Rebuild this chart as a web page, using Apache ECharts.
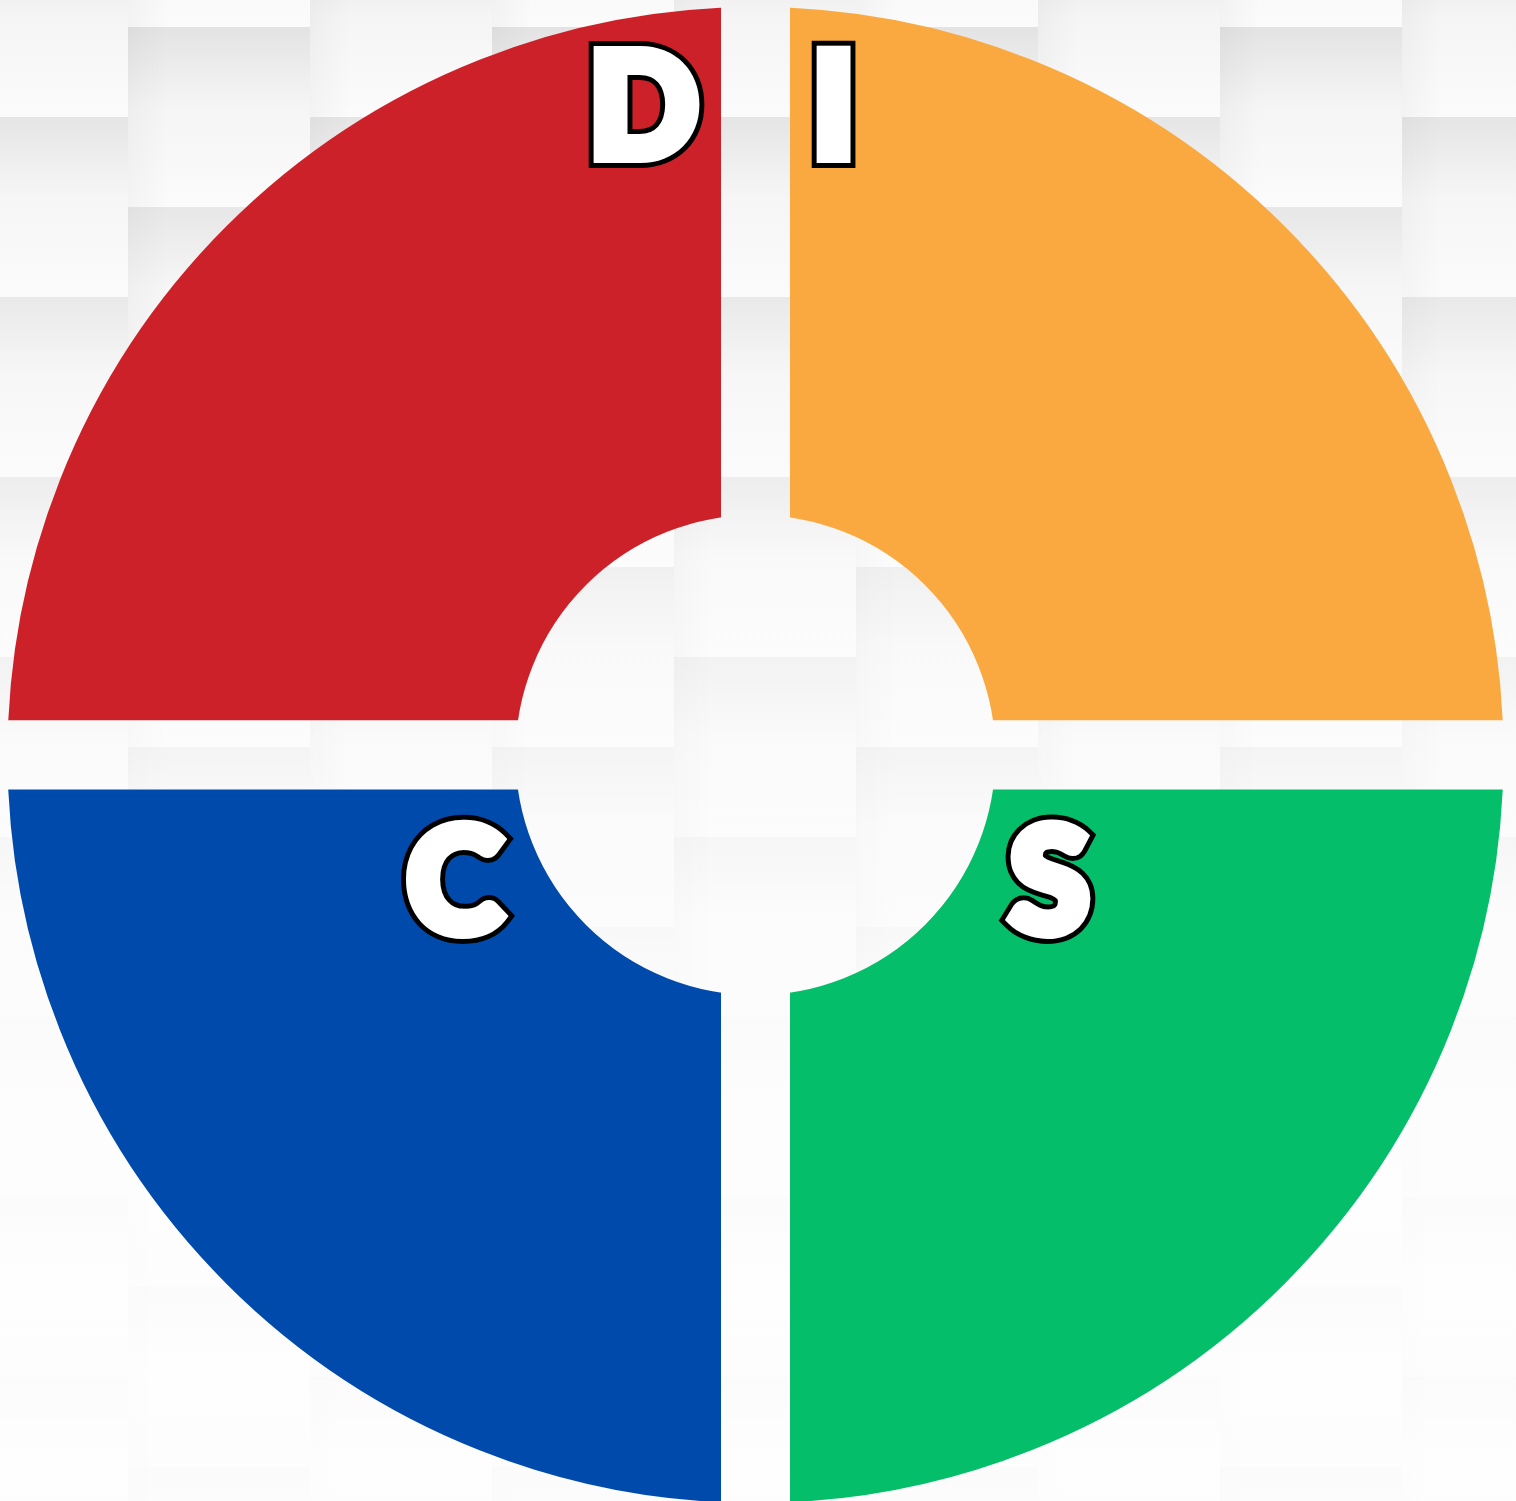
<!DOCTYPE html>
<html>
<head>
<meta charset="utf-8">
<script src="https://cdn.jsdelivr.net/npm/echarts@6/dist/echarts.min.js"></script>
<style>
  html, body { margin: 0; padding: 0; background: #f7f7f7; }
  #chart { width: 1516px; height: 1501px; }
</style>
</head>
<body>
<div id="chart"></div>
<script>
// ---- data ----
const categories = ['D', 'I', 'S', 'C'];
const values = [25, 25, 25, 25];
const colors = ['#cc2129', '#f9a93f', '#05be69', '#004aac'];

// ---- background tile texture (decorative) ----
const W = 1516, H = 1501;
function makeBackground(w, h) {
  const c = document.createElement('canvas');
  c.width = w; c.height = h;
  const g = c.getContext('2d');
  g.fillStyle = '#fbfbfb';
  g.fillRect(0, 0, w, h);
  const TW = 182, TH = 180;
  for (let k = -1; 128 + TW * k < w; k++) {
    const x = 128 + TW * k;
    const off = (Math.abs(k) % 2 === 0) ? 27 : 117;
    for (let y = off - TH; y < h; y += TH) {
      const s = Math.max(0.15, Math.min(1, 1.1 - (y + TH / 2) / 1200));
      const top = Math.round(255 - 28 * s);
      const mid = Math.round(255 - 10 * s);
      const bot = Math.round(253 - 2 * s);
      const grad = g.createLinearGradient(0, y, 0, y + TH);
      grad.addColorStop(0, `rgb(${top},${top},${top})`);
      grad.addColorStop(0.45, `rgb(${mid},${mid},${mid})`);
      grad.addColorStop(1, `rgb(${bot},${bot},${bot})`);
      g.fillStyle = grad;
      g.fillRect(x, y, TW, TH);
      const sg = g.createLinearGradient(x, 0, x + 40, 0);
      sg.addColorStop(0, `rgba(0,0,0,${0.03 * s})`);
      sg.addColorStop(1, 'rgba(0,0,0,0)');
      g.fillStyle = sg;
      g.fillRect(x, y, 40, TH);
    }
  }
  return c;
}
const bg = makeBackground(W, H);
document.getElementById('chart').style.background = 'url(' + bg.toDataURL() + ') no-repeat 0 0';

// ---- geometry ----
const CX = 755.5, CY = 755;
const R_OUT = 748, R_IN = 240, GAP = 69;
const HALF = GAP / 2;

// label anchor offsets from the ring centre
const labelOffsets = {
  D: [-112, -644],
  I: [78, -644],
  S: [294, 131],
  C: [-301, 131]
};
const FONT = '900 144px Lato';
const BOLD = 6, OUTLINE = 5;

function letterLayers(name) {
  const o = labelOffsets[name];
  const base = {
    text: name, x: CX + o[0], y: CY + o[1],
    font: FONT, align: 'center', verticalAlign: 'middle',
    lineJoin: 'round', lineCap: 'round'
  };
  return [
    { type: 'text', z: 10, silent: true,
      style: Object.assign({}, base, { fill: '#000', stroke: '#000', lineWidth: 2 * (BOLD + OUTLINE) }) },
    { type: 'text', z: 11, silent: true,
      style: Object.assign({}, base, { fill: '#fff', stroke: '#fff', lineWidth: 2 * BOLD }) }
  ];
}

const chart = echarts.init(document.getElementById('chart'), null, { renderer: 'canvas' });
chart.setOption({
  animation: false,
  backgroundColor: 'transparent',
  graphic: categories.flatMap(letterLayers),
  series: [{
    type: 'pie',
    center: [CX, CY],
    radius: [R_IN - HALF, R_OUT + HALF],
    startAngle: 180,
    clockwise: true,
    silent: true,
    emphasis: { disabled: true },
    itemStyle: {
      borderWidth: GAP,
      borderColor: { image: bg, repeat: 'no-repeat' }
    },
    label: { show: false },
    labelLine: { show: false },
    data: categories.map((c, i) => ({ name: c, value: values[i], itemStyle: { color: colors[i] } }))
  }]
});
</script>
</body>
</html>
